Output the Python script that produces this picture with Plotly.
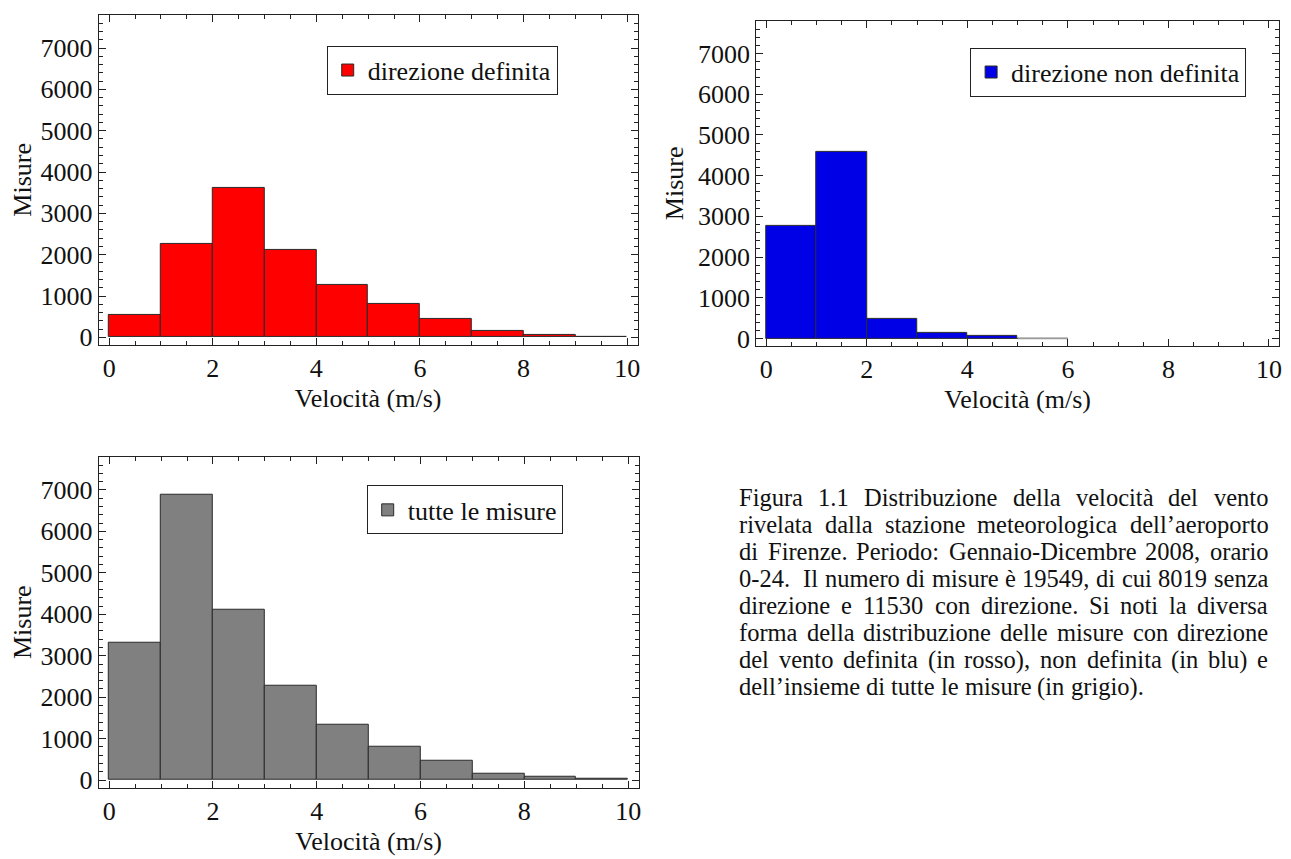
import plotly.graph_objects as go

# ---------------- data ----------------
bin_edges = [0, 1, 2, 3, 4, 5, 6, 7, 8, 9, 10]
defined_counts = [550, 2270, 3620, 2120, 1270, 800, 455, 145, 56, 15]
undefined_counts = [2760, 4590, 476, 129, 56, 0]
all_counts = [3320, 6885, 4100, 2265, 1330, 810, 468, 150, 72, 24]

name_defined = "direzione definita"
name_undefined = "direzione non definita"
name_all = "tutte le misure"
x_title = "Velocità (m/s)"
y_title = "Misure"
x_ticks = [0, 2, 4, 6, 8, 10]
y_ticks = [0, 1000, 2000, 3000, 4000, 5000, 6000, 7000]

caption_lines = [
    "Figura 1.1 Distribuzione della velocità del vento",
    "rivelata dalla stazione meteorologica dell’aeroporto",
    "di Firenze. Periodo: Gennaio-Dicembre 2008, orario",
    "0-24.  Il numero di misure è 19549, di cui 8019 senza",
    "direzione e 11530 con direzione. Si noti la diversa",
    "forma della distribuzione delle misure con direzione",
    "del vento definita (in rosso), non definita (in blu) e",
    "dell’insieme di tutte le misure (in grigio).",
]

# ---------------- layout constants ----------------
# the page body adds an 8px margin, so the figure is drawn 8px smaller
OFF = 8
W_PX, H_PX = 1291 - OFF, 859 - OFF
FONT = "Liberation Serif, Times New Roman, serif"


def px_x(v):
    return (v - OFF) / W_PX


def px_y(v):
    return 1 - (v - OFF) / H_PX


fig = go.Figure()


def add_hist(counts, color, name, xa, ya, legend):
    n = len(counts)
    centers = [(bin_edges[i] + bin_edges[i + 1]) / 2 for i in range(n)]
    widths = [bin_edges[i + 1] - bin_edges[i] for i in range(n)]
    fig.add_trace(go.Bar(
        x=centers, y=counts, width=widths, name=name,
        marker=dict(color=color, line=dict(color="#2a2a2a", width=1)),
        xaxis=xa, yaxis=ya, legend=legend, showlegend=True,
    ))
    # empty bins are drawn as a flat grey outline
    zx, zy = [], []
    for i, c in enumerate(counts):
        if c == 0:
            zx += [bin_edges[i], bin_edges[i + 1], None]
            zy += [0, 0, None]
    if zx:
        fig.add_trace(go.Scatter(
            x=zx, y=zy, mode="lines", line=dict(color="#9a9a9a", width=1.5),
            xaxis=xa, yaxis=ya, showlegend=False, hoverinfo="skip",
        ))


add_hist(defined_counts, "#ff0000", name_defined, "x", "y", "legend")
add_hist(undefined_counts, "#0000e6", name_undefined, "x2", "y2", "legend2")
add_hist(all_counts, "#808080", name_all, "x3", "y3", "legend3")

tickfont = dict(family=FONT, size=26, color="#111")
titlefont = dict(family=FONT, size=26, color="#111")


def xaxis_style(domain, anchor):
    return dict(
        domain=domain, anchor=anchor, range=[-0.2, 10.2],
        tickmode="array", tickvals=x_ticks, ticktext=[str(t) for t in x_ticks],
        showline=True, linecolor="#222", linewidth=1, mirror="ticks",
        ticks="inside", ticklen=7, tickcolor="#222", tickwidth=1,
        showgrid=False, zeroline=False, tickfont=tickfont,
        minor=dict(tickmode="linear", tick0=0, dtick=0.5, ticks="inside",
                   ticklen=4, tickcolor="#222", showgrid=False),
        title=dict(text=x_title, font=titlefont, standoff=6),
    )


def yaxis_style(domain, anchor):
    return dict(
        domain=domain, anchor=anchor, range=[-180, 7800],
        tickmode="array", tickvals=y_ticks, ticktext=[str(t) for t in y_ticks],
        showline=True, linecolor="#222", linewidth=1, mirror="ticks",
        ticks="inside", ticklen=7, tickcolor="#222", tickwidth=1,
        showgrid=False, zeroline=False, tickfont=tickfont,
        minor=dict(tickmode="linear", tick0=0, dtick=200, ticks="inside",
                   ticklen=4, tickcolor="#222", showgrid=False),
        title=dict(text=y_title, font=titlefont, standoff=6),
    )


# panel frames in reference pixels (left, right, top, bottom)
p1 = (99, 639, 15, 348)
p2 = (758, 1282, 21, 349)
p3 = (99, 640, 461, 795)


def dom(p):
    return [px_x(p[0]), px_x(p[1])], [px_y(p[3]), px_y(p[2])]


d1x, d1y = dom(p1)
d2x, d2y = dom(p2)
d3x, d3y = dom(p3)


def legend_style(right_px, top_px):
    return dict(
        x=px_x(right_px), y=px_y(top_px), xanchor="right", yanchor="top",
        xref="paper", yref="paper",
        bgcolor="white", bordercolor="#222", borderwidth=1,
        font=dict(family=FONT, size=26, color="#111"), itemwidth=30,
    )


fig.update_layout(
    width=W_PX, height=H_PX, autosize=False,
    margin=dict(l=0, r=0, t=0, b=0),
    paper_bgcolor="white", plot_bgcolor="white",
    bargap=0, barmode="overlay",
    xaxis=xaxis_style(d1x, "y"), yaxis=yaxis_style(d1y, "x"),
    xaxis2=xaxis_style(d2x, "y2"), yaxis2=yaxis_style(d2y, "x2"),
    xaxis3=xaxis_style(d3x, "y3"), yaxis3=yaxis_style(d3y, "x3"),
    legend=legend_style(559, 46),
    legend2=legend_style(1249, 48),
    legend3=legend_style(564, 490),
)

# ---------------- justified caption ----------------
CHAR_W = {
    " ": 250, "a": 444, "b": 500, "c": 444, "d": 500, "e": 444, "f": 333,
    "g": 500, "h": 500, "i": 278, "j": 278, "k": 500, "l": 278, "m": 778,
    "n": 500, "o": 500, "p": 500, "q": 500, "r": 333, "s": 389, "t": 278,
    "u": 500, "v": 500, "w": 722, "x": 500, "y": 500, "z": 444,
    "A": 722, "B": 667, "C": 667, "D": 722, "E": 611, "F": 556, "G": 722,
    "H": 722, "I": 333, "L": 611, "M": 889, "N": 722, "O": 722, "P": 556,
    "R": 667, "S": 556, "T": 611, "V": 722,
    ".": 250, ",": 250, ":": 278, ";": 278, "-": 333, "(": 333, ")": 333,
    "’": 333, "/": 278, "à": 444, "è": 444, "é": 444, "ì": 278, "ò": 500,
    "ù": 500,
}
for dgt in "0123456789":
    CHAR_W[dgt] = 500

CAP_SIZE = 24.5
cap_left, cap_right = 740, 1270
cap_top, cap_step = 502, 27.3


def tw(s):
    return sum(CHAR_W.get(ch, 500) for ch in s) * CAP_SIZE / 1000


for li, line in enumerate(caption_lines):
    toks = line.split(" ")
    widths = [tw(t) for t in toks]
    if li == len(caption_lines) - 1:
        gap = CHAR_W[" "] * CAP_SIZE / 1000
    else:
        gap = (cap_right - cap_left - sum(widths)) / (len(toks) - 1)
    xpos = cap_left
    ypos = cap_top + li * cap_step
    for t, w in zip(toks, widths):
        if t:
            fig.add_annotation(
                x=px_x(xpos), y=px_y(ypos), xref="paper", yref="paper",
                xanchor="left", yanchor="middle", text=t, showarrow=False,
                font=dict(family=FONT, size=CAP_SIZE, color="#111"),
                borderpad=0,
            )
        xpos += w + gap

fig.write_html("out.html")
